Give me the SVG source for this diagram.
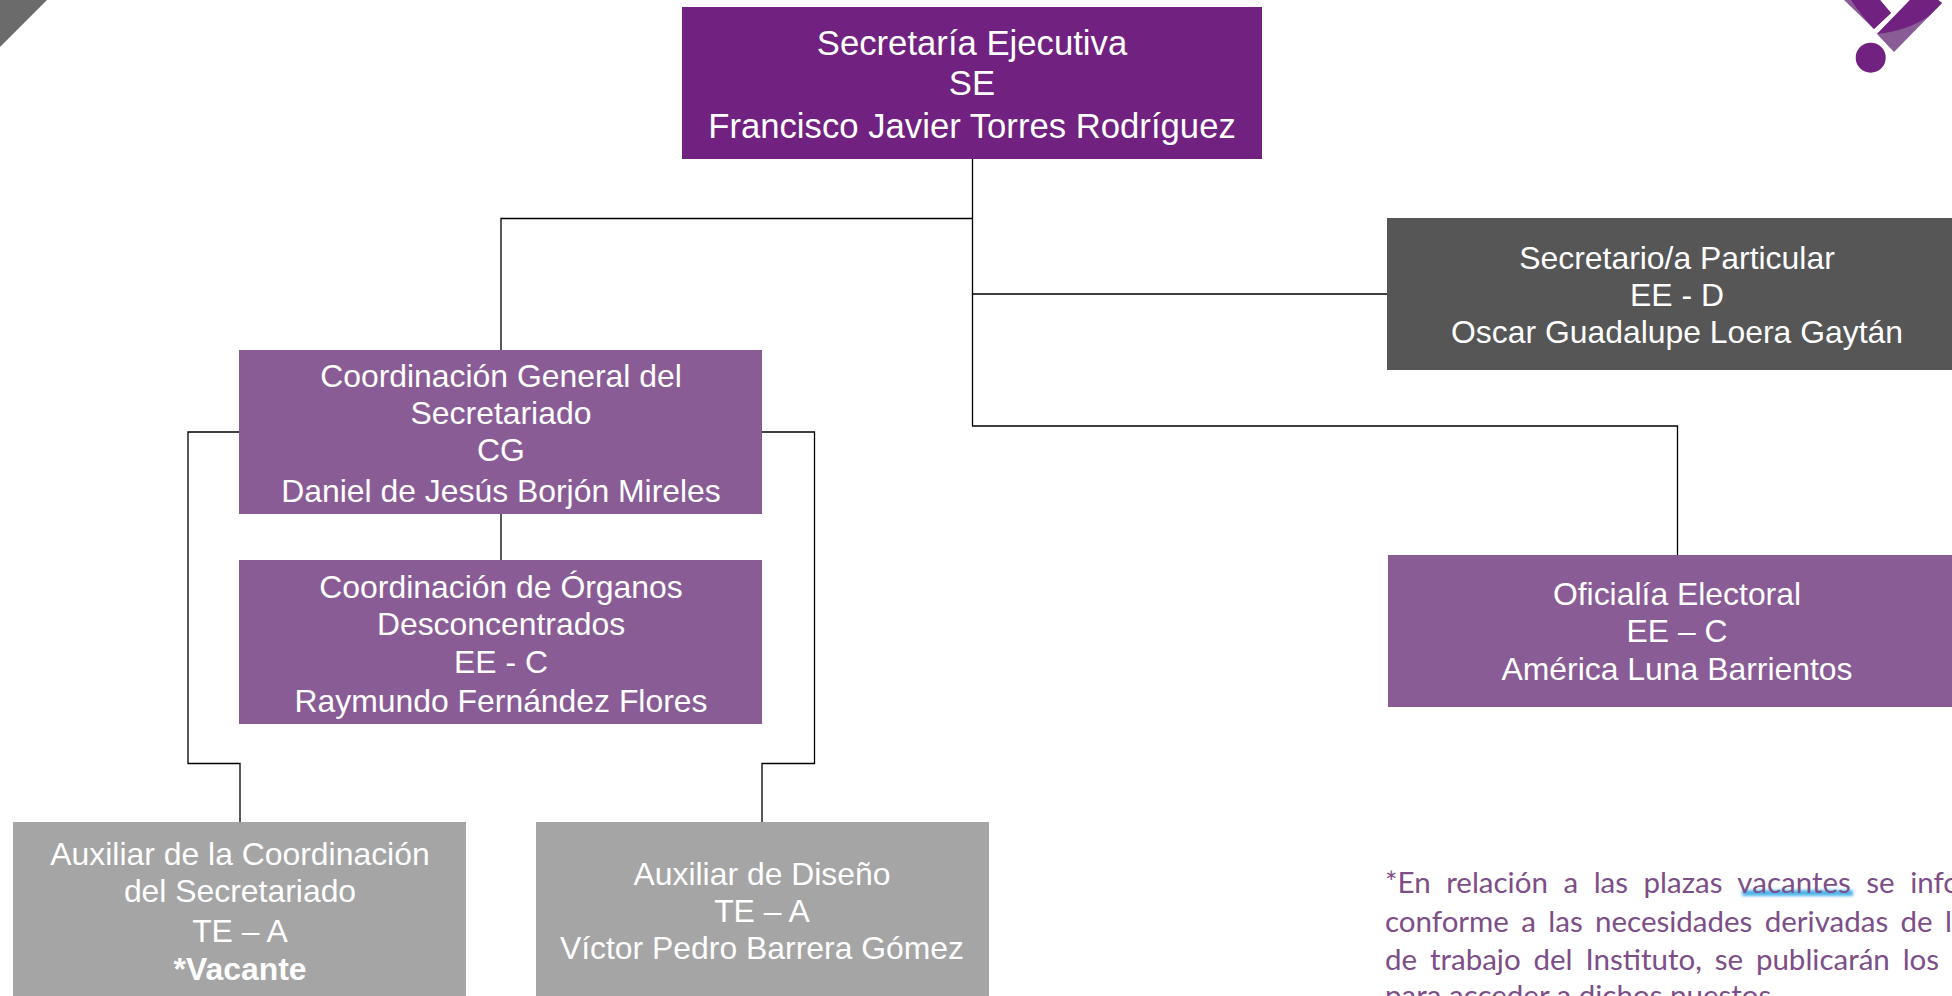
<svg xmlns="http://www.w3.org/2000/svg" width="1952" height="996" viewBox="0 0 1952 996">
<style>
text{font-family:"Liberation Sans",Arial,sans-serif;font-size:31.900px;fill:#fff;text-anchor:middle}
.t{font-size:34.700px}
.c{fill:none;stroke:#000;stroke-width:1.3}
.p{fill:#8a5c96}.g{fill:#a5a5a5}
.n{font-family:Lato,"Liberation Sans",sans-serif;font-size:29.500px;fill:#7d4e87;text-anchor:start}
</style>
<defs><filter id="b" x="-5%" y="-100%" width="110%" height="300%"><feGaussianBlur stdDeviation="1.5"/></filter></defs>
<rect width="1952" height="996" fill="#fff"/>
<path id="corner" d="M0 0H47L0 47Z" fill="#6b6b6b"/>
<g id="logo">
<path d="M1844 0H1880L1891 13L1874 29Z" fill="#8a5c96"/>
<path d="M1851 0H1880L1891 13L1874 29Q1860 14 1851 0Z" fill="#71217f"/>
<path d="M1910 0H1938L1942 3L1894 52L1877 34Z" fill="#8a5c96"/>
<path d="M1910 0H1938L1942 3L1929 16Q1907 31 1877 34Z" fill="#71217f"/>
<circle cx="1870.7" cy="57.700" r="15" fill="#71217f"/>
</g>
<g id="connectors">
<path class="c" d="M972.500 159V426H1677.500V555M972.500 218.500H501V350M972.500 294H1387M501 514V560"/>
<path class="c" d="M239 432H188V763.500H240V822M762 432H814.500V763.500H762V822"/>
</g>
<g id="se"><rect x="682" y="7" width="580" height="152" fill="#71217f"/>
<text class="t" x="972" y="55">Secretaría Ejecutiva</text><text class="t" x="972" y="95">SE</text><text class="t" x="972" y="138">Francisco Javier Torres Rodríguez</text></g>
<g id="particular"><rect x="1387" y="218" width="565" height="152" fill="#565656"/>
<text x="1677" y="269">Secretario/a Particular</text><text x="1677" y="306">EE - D</text><text x="1677" y="343">Oscar Guadalupe Loera Gaytán</text></g>
<g id="oficialia"><rect class="p" x="1388" y="555" width="564" height="152"/>
<text x="1677" y="605">Oficialía Electoral</text><text x="1677" y="642">EE – C</text><text x="1677" y="680">América Luna Barrientos</text></g>
<g id="cg"><rect class="p" x="239" y="350" width="523" height="164"/>
<text x="501" y="387">Coordinación General del</text><text x="501" y="424">Secretariado</text><text x="501" y="461">CG</text><text x="501" y="502">Daniel de Jesús Borjón Mireles</text></g>
<g id="organos"><rect class="p" x="239" y="560" width="523" height="164"/>
<text x="501" y="598">Coordinación de Órganos</text><text x="501" y="635">Desconcentrados</text><text x="501" y="673">EE - C</text><text x="501" y="712">Raymundo Fernández Flores</text></g>
<g id="aux1"><rect class="g" x="13" y="822" width="453" height="174"/>
<text x="240" y="865">Auxiliar de la Coordinación</text><text x="240" y="902">del Secretariado</text><text x="240" y="942">TE – A</text><text x="240" y="980" font-weight="bold">*Vacante</text></g>
<g id="aux2"><rect class="g" x="536" y="822" width="453" height="174"/>
<text x="762" y="885">Auxiliar de Diseño</text><text x="762" y="922">TE – A</text><text x="762" y="959">Víctor Pedro Barrera Gómez</text></g>
<g id="nota">
<rect x="1742" y="890" width="111" height="6" fill="#4db4e8" filter="url(#b)"/>
<text class="n" x="1385" y="893" word-spacing="8">*En relación a las plazas vacantes se info</text>
<text class="n" x="1385" y="932" word-spacing="4.800">conforme a las necesidades derivadas de l</text>
<text class="n" x="1385" y="970" word-spacing="5.300">de trabajo del Instituto, se publicarán los</text>
<text class="n" x="1385" y="1006">para acceder a dichos puestos.</text>
</g>
</svg>
